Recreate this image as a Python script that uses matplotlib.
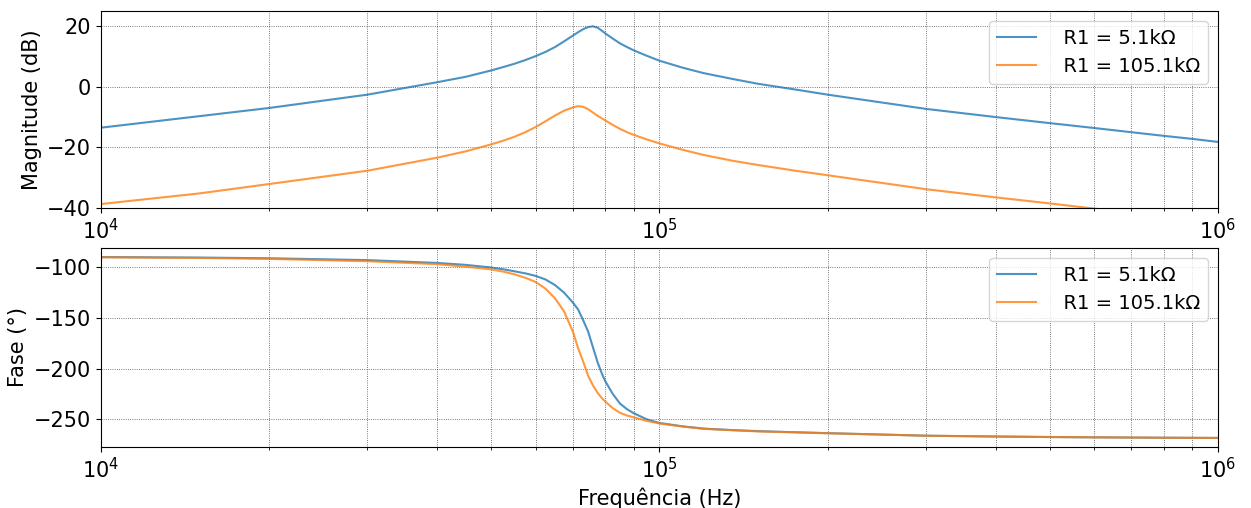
import matplotlib
matplotlib.use("Agg")
import matplotlib.pyplot as plt

# frequency grid (Hz) shared by both resistor values
freq_hz = [10e3, 15e3, 20e3, 30e3, 40e3, 45e3, 50e3, 52.5e3, 55e3, 57.5e3,
           60e3, 62.5e3, 65e3, 67.5e3, 70e3, 71.5e3, 73e3, 74.5e3, 76e3, 77.5e3,
           79e3, 80e3, 82.5e3, 85e3, 87.5e3, 90e3, 95e3, 100e3, 110e3, 120e3,
           135e3, 150e3, 175e3, 200e3, 300e3, 400e3, 500e3, 600e3, 700e3, 800e3,
           900e3, 1e6]

# magnitude (dB)
mag_r1_5k1 = [-13.5, -9.7, -7.0, -2.6, 1.5, 3.3, 5.4, 6.5, 7.6, 8.8,
              10.1, 11.5, 13.1, 15.0, 16.9, 18.0, 19.0, 19.7, 19.95, 19.5,
              18.4, 17.6, 15.9, 14.3, 13.1, 12.0, 10.2, 8.6, 6.3, 4.5,
              2.6, 1.0, -0.9, -2.6, -7.3, -10.0, -12.0, -13.6, -15.0, -16.2,
              -17.2, -18.2]
mag_r1_105k1 = [-38.7, -35.2, -32.1, -27.7, -23.4, -21.3, -19.0, -17.8, -16.5, -15.0,
                -13.3, -11.4, -9.5, -7.9, -6.8, -6.4, -6.6, -7.4, -8.5, -9.6,
                -10.5, -11.1, -12.6, -13.9, -15.0, -15.9, -17.4, -18.7, -20.8, -22.5,
                -24.4, -25.8, -27.7, -29.2, -33.8, -36.5, -38.5, -40.2, -41.6, -42.8,
                -43.8, -44.7]

# phase (degrees)
phase_r1_5k1 = [-90.5, -91.0, -91.7, -93.5, -96.3, -98.2, -100.8, -102.5, -104.5, -106.5,
                -109.0, -112.5, -118.0, -125.5, -135.3, -142.0, -152.5, -163.5, -179.0, -194.0,
                -206.0, -212.5, -225.0, -234.5, -240.0, -244.0, -250.0, -253.5, -256.8, -259.0,
                -260.5, -261.5, -262.6, -263.5, -266.0, -266.8, -267.3, -267.6, -267.8, -268.0,
                -268.1, -268.2]
phase_r1_105k1 = [-90.8, -91.4, -92.3, -94.6, -97.5, -100.0, -102.6, -104.8, -107.5, -110.8,
                  -115.0, -121.5, -131.0, -144.0, -164.0, -180.0, -193.0, -207.0, -216.5, -224.0,
                  -229.5, -232.5, -239.0, -243.5, -246.2, -248.0, -251.5, -254.0, -257.0, -259.3,
                  -260.6, -261.8, -262.7, -263.6, -266.0, -266.8, -267.3, -267.6, -267.8, -268.0,
                  -268.1, -268.2]

labels = ["  R1 = 5.1kΩ", "  R1 = 105.1kΩ"]

plt.rcParams["font.size"] = 15
plt.rcParams["axes.labelsize"] = 15
plt.rcParams["legend.fontsize"] = 14

fig = plt.figure(figsize=(12.51, 5.08), dpi=100)
ax_mag = fig.add_axes([0.0807, 0.5906, 0.8929, 0.3877])
ax_ph = fig.add_axes([0.0807, 0.1201, 0.8929, 0.3917])

ax_mag.semilogx(freq_hz, mag_r1_5k1, alpha=0.8, label=labels[0])
ax_mag.semilogx(freq_hz, mag_r1_105k1, alpha=0.8, label=labels[1])
ax_mag.set_ylim(-40, 25)
ax_mag.set_ylabel("Magnitude (dB)")

ax_ph.semilogx(freq_hz, phase_r1_5k1, alpha=0.8, label=labels[0])
ax_ph.semilogx(freq_hz, phase_r1_105k1, alpha=0.8, label=labels[1])
ax_ph.set_ylabel("Fase (°)")
ax_ph.set_xlabel("Frequência (Hz)")

for ax in (ax_mag, ax_ph):
    ax.set_xlim(1e4, 1e6)
    ax.grid(which="both", color="k", linestyle=":", linewidth=0.6, alpha=0.7)
    ax.legend(loc="upper right")

fig.savefig("out.png", dpi=100)
